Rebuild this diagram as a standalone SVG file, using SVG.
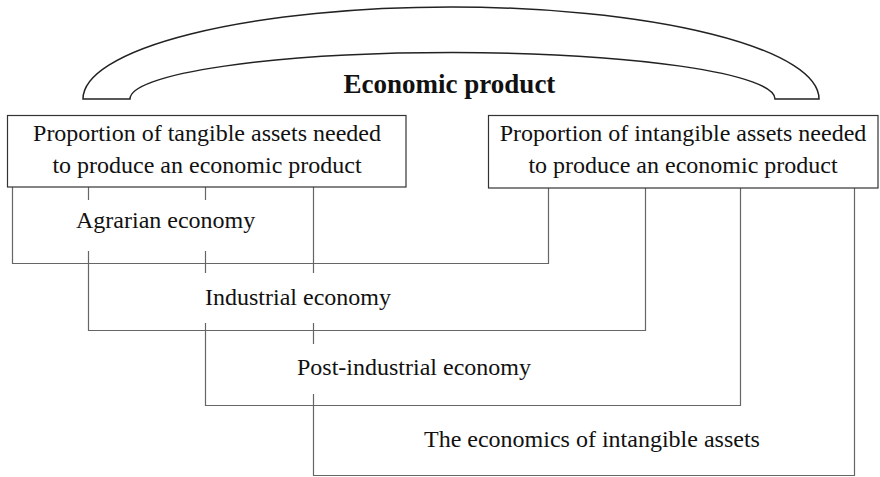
<svg xmlns="http://www.w3.org/2000/svg" width="880" height="477" viewBox="0 0 880 477">
<style>
text{font-family:"Liberation Serif","Times New Roman",serif;fill:#111;}
.t{font-size:24px;}
.title{font-size:27px;font-weight:bold;}
.box{fill:#fff;stroke:#333;stroke-width:1.2;}
.conn{fill:none;stroke:#666;stroke-width:1.2;}
</style>
<rect width="880" height="477" fill="#fff"/>
<g id="economic-product">
<path d="M83,99 A368,92 0 0 1 819,99 H775 A322.5,46.5 0 0 0 130,99 Z" fill="#fff" stroke="#222" stroke-width="1.5"/>
<text class="title" x="449.5" y="93" text-anchor="middle">Economic product</text>
</g>
<g id="connectors">
<path class="conn" d="M12.5,187 V263.5 H548.5 V188"/>
<path class="conn" d="M88.5,187 V200 M88.5,251 V330.5 H645.5 V188"/>
<path class="conn" d="M205.5,187 V200 M205.5,251 V273 M205.5,323 V405.5 H740.5 V188"/>
<path class="conn" d="M313.5,187 V273 M313.5,323 V344 M313.5,394 V475.5 H854.5 V188"/>
</g>
<g id="tangible">
<rect class="box" x="7.5" y="115.5" width="398.5" height="71.5"/>
<text class="t" x="207" y="141" text-anchor="middle">Proportion of tangible assets needed</text>
<text class="t" x="207" y="173" text-anchor="middle">to produce an economic product</text>
</g>
<g id="intangible">
<rect class="box" x="488.5" y="115.5" width="389.5" height="72.5"/>
<text class="t" x="683" y="141" text-anchor="middle">Proportion of intangible assets needed</text>
<text class="t" x="683" y="173" text-anchor="middle">to produce an economic product</text>
</g>
<g id="agrarian">
<text class="t" x="76" y="228">Agrarian economy</text>
</g>
<g id="industrial">
<text class="t" x="205" y="305">Industrial economy</text>
</g>
<g id="post-industrial">
<text class="t" x="297" y="375">Post-industrial economy</text>
</g>
<g id="intangible-economics">
<text class="t" x="424" y="447">The economics of intangible assets</text>
</g>
</svg>
